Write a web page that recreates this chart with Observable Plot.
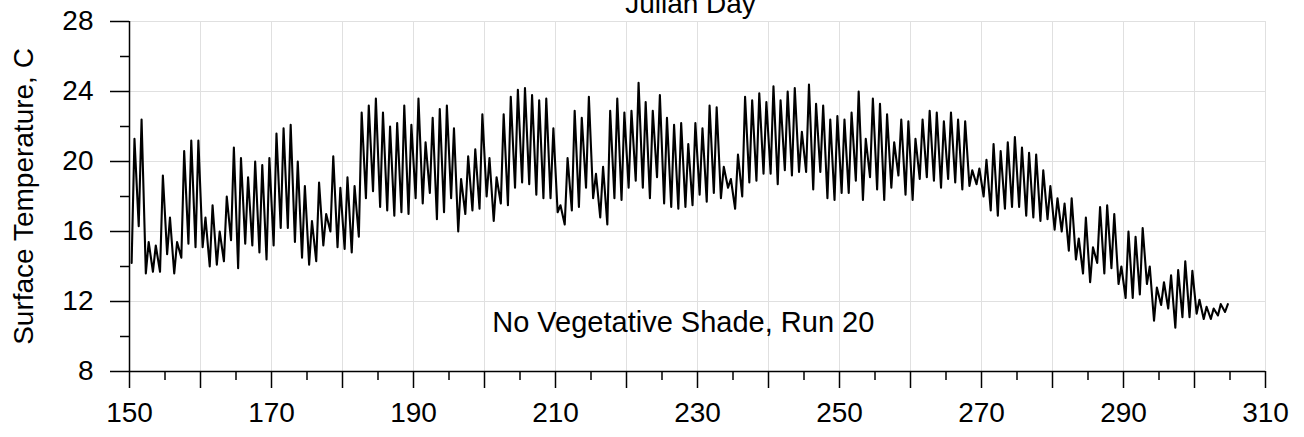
<!DOCTYPE html>
<html><head><meta charset="utf-8">
<script src="https://cdn.jsdelivr.net/npm/d3@7"></script>
<script src="https://cdn.jsdelivr.net/npm/@observablehq/plot@0.6"></script>
<style>body{margin:0;background:#fff}</style>
</head><body><div id="chart"></div>
<script>
// Julian days, one daily minimum (early morning) and maximum (afternoon) each
const days = d3.range(150, 305);
const lows = [
  14.2, 16.3, 13.6, 13.7, 13.7, 14.7, 13.6, 14.5, 15.3, 15.1,
  15.1, 14.0, 14.1, 14.3, 15.5, 13.9, 15.3, 15.2, 14.8, 14.4,
  15.2, 16.2, 16.2, 15.4, 14.5, 14.1, 14.3, 15.2, 16.0, 15.1,
  15.0, 14.8, 15.7, 17.9, 18.3, 17.4, 17.2, 16.9, 17.1, 17.0,
  17.9, 17.6, 18.2, 16.7, 17.1, 17.9, 16.0, 17.0, 17.2, 17.3,
  18.0, 16.6, 17.6, 17.5, 18.5, 18.8, 18.7, 18.1, 17.9, 17.9,
  17.1, 16.4, 17.2, 17.4, 18.5, 17.9, 16.8, 16.4, 17.9, 17.8,
  18.5, 18.9, 18.5, 17.9, 19.1, 17.6, 17.4, 17.3, 17.4, 17.5,
  18.1, 17.7, 18.2, 17.9, 18.5, 17.3, 18.0, 18.8, 18.9, 19.3,
  19.3, 18.7, 19.5, 19.2, 19.4, 19.4, 18.4, 19.4, 17.9, 17.8,
  18.2, 18.2, 18.9, 17.8, 19.1, 18.4, 17.8, 18.5, 19.2, 18.1,
  17.8, 19.0, 19.1, 18.9, 18.5, 19.0, 18.8, 18.4, 18.6, 18.7,
  18.0, 17.2, 16.9, 17.3, 17.4, 17.4, 16.9, 16.8, 16.6, 16.7,
  16.1, 16.0, 14.9, 14.4, 13.6, 13.1, 14.2, 13.6, 13.9, 13.0,
  12.2, 12.2, 12.4, 13.0, 10.9, 11.8, 11.6, 10.5, 11.1, 11.1,
  11.3, 11.0, 11.0, 11.2, 11.4
];
const highs = [
  21.3, 22.4, 15.4, 15.2, 19.2, 16.8, 15.4, 20.6, 21.2, 21.2,
  16.8, 17.5, 16.0, 18.0, 20.8, 20.2, 19.1, 20.0, 19.8, 20.2,
  21.6, 21.9, 22.1, 20.0, 18.6, 16.6, 18.8, 17.0, 20.3, 18.5,
  19.1, 18.6, 22.8, 23.2, 23.6, 22.8, 22.0, 22.2, 23.2, 22.1,
  23.6, 21.1, 22.5, 23.0, 23.2, 21.9, 19.0, 20.3, 20.7, 22.7,
  20.2, 19.1, 22.7, 23.7, 24.1, 24.2, 23.8, 23.5, 23.6, 21.9,
  17.5, 20.2, 22.9, 22.5, 23.7, 19.3, 19.7, 22.9, 23.6, 22.8,
  22.9, 24.5, 23.4, 22.9, 23.8, 22.5, 22.1, 22.2, 21.0, 22.2,
  21.9, 23.2, 23.1, 19.7, 19.0, 20.4, 23.7, 23.5, 23.9, 23.4,
  24.3, 23.5, 24.0, 24.2, 21.7, 24.4, 23.3, 23.2, 22.4, 22.6,
  22.4, 22.8, 24.0, 21.3, 23.6, 23.3, 22.7, 21.1, 22.4, 22.3,
  21.3, 22.4, 22.9, 22.8, 22.3, 22.8, 22.4, 22.3, 19.5, 19.6,
  20.1, 21.0, 20.6, 21.1, 21.4, 20.8, 20.5, 20.4, 19.5, 18.6,
  17.9, 17.6, 17.9, 15.6, 16.8, 15.1, 17.4, 17.5, 17.0, 14.0,
  16.0, 15.7, 16.2, 14.0, 12.8, 13.1, 13.5, 13.8, 14.3, 13.75,
  12.1, 11.7, 11.6, 11.85, 11.85
];
const lowHour = 0.3;   // fraction of day of the daily minimum
const highHour = 0.7;  // fraction of day of the daily maximum

const xTicks = [150, 160, 170, 180, 190, 200, 210, 220, 230, 240, 250, 260, 270, 280, 290, 300, 310];
const xLabelled = [150, 170, 190, 210, 230, 250, 270, 290, 310];
const xMinorTicks = [155, 165, 175, 185, 195, 205, 215, 225, 235, 245, 255, 265, 275, 285, 295, 305];
const yTicks = [8, 12, 16, 20, 24, 28];
const yMinorTicks = [10, 14, 18, 22, 26];

const title = "Julian Day";
const yLabel = "Surface Temperature, C";
const note = "No Vegetative Shade, Run 20";
const noteAt = {x: 228, y: 10.23};

const series = days.flatMap((d, i) => [
  {t: d + lowHour, v: lows[i]},
  {t: d + highHour, v: highs[i]}
]);

const chart = Plot.plot({
  width: 1304,
  height: 437,
  marginTop: 21,
  marginBottom: 66,
  marginLeft: 129,
  marginRight: 39,
  style: {fontFamily: "'Liberation Sans', Arial, sans-serif", fontSize: "28px", background: "#fff", color: "#000"},
  x: {domain: [150, 310]},
  y: {domain: [8, 28]},
  marks: [
    Plot.gridX(xTicks.slice(1), {stroke: "#e0e0e0", strokeOpacity: 1, strokeWidth: 1}),
    Plot.gridY(yTicks.slice(1), {stroke: "#e0e0e0", strokeOpacity: 1, strokeWidth: 1}),
    Plot.line(series, {x: "t", y: "v", stroke: "#000", strokeWidth: 2.1}),
    Plot.ruleX([150], {stroke: "#000", strokeWidth: 1.5}),
    Plot.ruleY([8], {stroke: "#000", strokeWidth: 1.5}),
    Plot.axisX(xTicks, {tickSize: 17, tickPadding: 14, strokeWidth: 1.5,
      tickFormat: d => xLabelled.includes(d) ? String(d) : "", label: null}),
    Plot.axisX(xMinorTicks, {tickSize: 9, strokeWidth: 1.5, tickFormat: () => "", label: null}),
    Plot.axisY(yTicks, {tickSize: 19, tickPadding: 17, strokeWidth: 1.5,
      label: yLabel, labelAnchor: "center", labelOffset: 116, labelArrow: "none"}),
    Plot.axisY(yMinorTicks, {tickSize: 9, strokeWidth: 1.5, tickFormat: () => "", label: null}),
    Plot.text([title], {text: d => d, frameAnchor: "top", lineAnchor: "bottom", dy: -9, dx: -7, fill: "#000"}),
    Plot.text([note], {text: d => d, x: noteAt.x, y: noteAt.y, lineAnchor: "bottom", fill: "#000", fontSize: 29})
  ]
});
document.getElementById("chart").appendChild(chart);
</script>
</body></html>
